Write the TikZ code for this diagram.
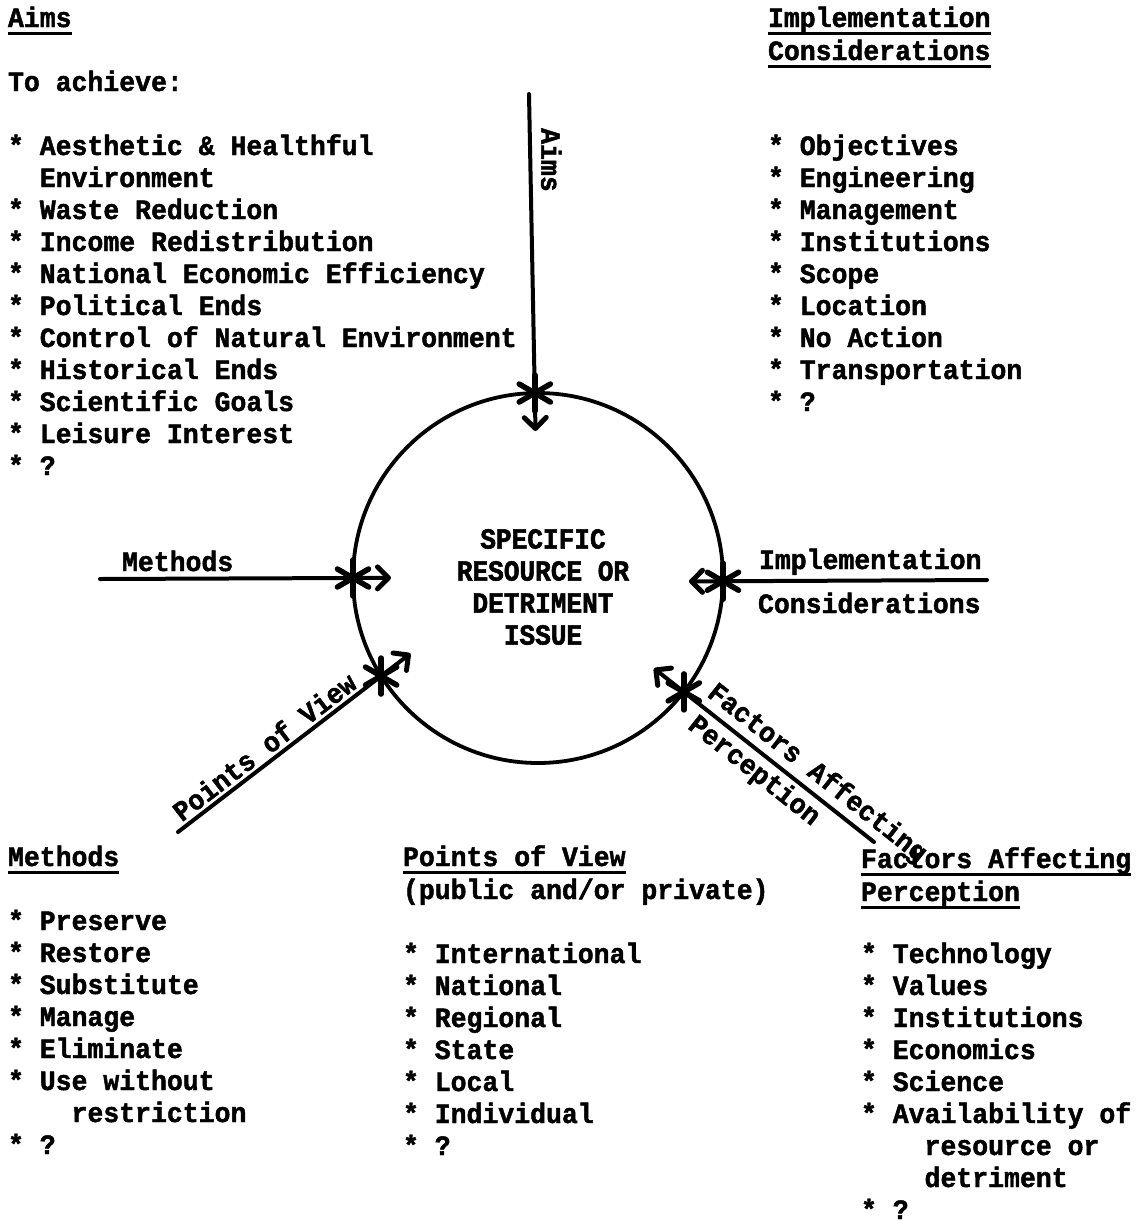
\documentclass[tikz,border=0pt]{standalone}
\usepackage{fontspec}
\usetikzlibrary{calc,arrows.meta}
\newfontfamily\typewriter{Liberation Mono}[FakeStretch=0.946, BoldFeatures={FakeBold=1.6}]
\newfontfamily\typewriternarrow{Liberation Mono}[FakeStretch=0.9, BoldFeatures={FakeBold=1.8}]
\begin{document}
\begin{tikzpicture}[x=1pt,y=-1pt,
  txt/.style={anchor=base west, inner sep=0pt, outer sep=0pt,
    font=\typewriter\bfseries\fontsize{28}{32}\selectfont},
  uline/.style={line width=3pt},
  conn/.style={line width=4pt, line cap=round,
    -{Straight Barb[length=11pt,width=22pt,line width=5pt,round]}},
  asterisk/.pic={\foreach \a in {30,90,150}
    \draw[line width=5.5pt, line cap=round] (\a:18pt) -- (\a+180:18pt);},
]
\useasboundingbox (0,0) rectangle (1137,1224);

% ---- central issue ----
\node[draw, circle, minimum size=370pt, line width=3.8pt, inner sep=0pt, outer sep=0pt] (issue) at (538,578) {};
\node[inner sep=0pt, align=center,
  font=\typewriternarrow\bfseries\fontsize{29}{32}\selectfont] (issueText) at (543,587)
  {SPECIFIC\\RESOURCE OR\\DETRIMENT\\ISSUE};

% ---- connector end points ----
\coordinate (aStart) at (529,94);
\coordinate (mStart) at (100,579);
\coordinate (iStart) at (987,580);
\coordinate (pStart) at (178,832);
\coordinate (fStart) at (874,842);

% ---- connectors ----
\draw[conn] (aStart) -- ($(issue.91.5)!-38pt!(aStart)$);
\draw[conn] (mStart) -- ($(issue.180.6)!-38pt!(mStart)$);
\draw[conn] (iStart) -- ($(issue.359.4)!-34pt!(iStart)$);
\draw[conn] (pStart) -- ($(issue.212.7)!-37pt!(pStart)$);
\draw[conn] (fStart) -- ($(issue.322.3)!-38pt!(fStart)$);

\foreach \p in {91.5,180.6,359.4,212.7,322.3}
  \pic at (issue.\p) {asterisk};

% ---- connector labels ----
\node[txt, anchor=south, rotate=-90] (aimsLbl) at (541,160) {Aims};
\node[txt] (methLbl) at (122,571) {Methods};
\node[txt] (implLbl) at (759,569) {Implementation};
\node[txt] (consLbl) at (758,613) {Considerations};
\path (pStart) -- (issue.212.7)
  node[txt, pos=0.47, sloped, above=5pt] (povLbl) {Points of View};
\path (issue.322.3) -- (fStart)
  node[txt, pos=0.64, sloped, above=5pt] (facLbl) {Factors Affecting}
  node[txt, pos=0.43, sloped, below=6pt] (perLbl) {Perception};

% ---- Aims ----
\node[txt] (aimsHead) at (8,27) {Aims};
\draw[uline] ([yshift=-6pt]aimsHead.base west) -- ([yshift=-6pt]aimsHead.base east);
\node[txt] (toAchieve) at (8,91) {To achieve:};
\foreach \t [count=\i from 0] in {{*~Aesthetic \& Healthful},{\hphantom{xx}Environment},
  {*~Waste Reduction},{*~Income Redistribution},{*~National Economic Efficiency},
  {*~Political Ends},{*~Control of Natural Environment},{*~Historical Ends},
  {*~Scientific Goals},{*~Leisure Interest},{*~?}}
  \node[txt] (aim\i) at (8,{155+32*\i}) {\t};

% ---- Implementation Considerations ----
\node[txt] (implHead) at (768,27) {Implementation};
\draw[uline] ([yshift=-6pt]implHead.base west) -- ([yshift=-6pt]implHead.base east);
\node[txt] (consHead) at (768,60) {Considerations};
\draw[uline] ([yshift=-6pt]consHead.base west) -- ([yshift=-6pt]consHead.base east);
\foreach \t [count=\i from 0] in {Objectives,Engineering,Management,Institutions,
  Scope,Location,No Action,Transportation,?}
  \node[txt] (impl\i) at (768,{155+32*\i}) {*~\t};

% ---- Methods ----
\node[txt] (methHead) at (8,866) {Methods};
\draw[uline] ([yshift=-6pt]methHead.base west) -- ([yshift=-6pt]methHead.base east);
\foreach \t [count=\i from 0] in {{*~Preserve},{*~Restore},{*~Substitute},{*~Manage},
  {*~Eliminate},{*~Use without},{\hphantom{xxxx}restriction},{*~?}}
  \node[txt] (meth\i) at (8,{930+32*\i}) {\t};

% ---- Points of View ----
\node[txt] (povHead) at (403,866) {Points of View};
\draw[uline] ([yshift=-6pt]povHead.base west) -- ([yshift=-6pt]povHead.base east);
\node[txt] (povSub) at (403,899) {(public and/or private)};
\foreach \t [count=\i from 0] in {International,National,Regional,State,Local,
  Individual,?}
  \node[txt] (pov\i) at (403,{963+32*\i}) {*~\t};

% ---- Factors Affecting Perception ----
\node[txt] (facHead) at (861,868) {Factors Affecting};
\draw[uline] ([yshift=-6pt]facHead.base west) -- ([yshift=-6pt]facHead.base east);
\node[txt] (perHead) at (861,901) {Perception};
\draw[uline] ([yshift=-6pt]perHead.base west) -- ([yshift=-6pt]perHead.base east);
\foreach \t [count=\i from 0] in {{*~Technology},{*~Values},{*~Institutions},
  {*~Economics},{*~Science},{*~Availability of},{\hphantom{xxxx}resource or},
  {\hphantom{xxxx}detriment},{*~?}}
  \node[txt] (fac\i) at (861,{963+32*\i}) {\t};
\end{tikzpicture}
\end{document}
